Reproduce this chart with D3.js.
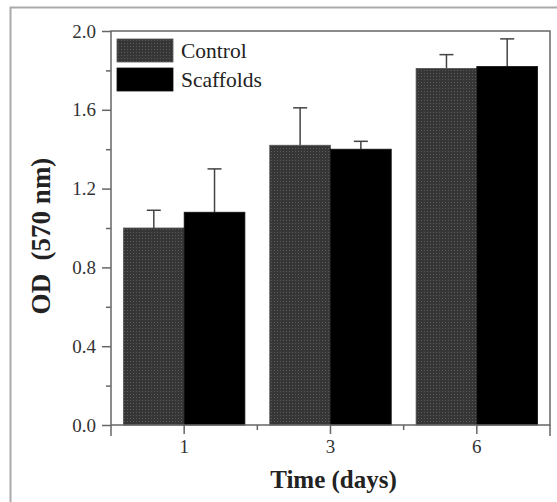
<!DOCTYPE html>
<html><head><meta charset="utf-8">
<script src="https://cdn.jsdelivr.net/npm/d3@7"></script>
<style>body{margin:0;background:#fff}svg{display:block}</style>
</head><body>
<svg id="c" width="557" height="502"></svg>
<script>
const categories = ["1", "3", "6"];
const seriesNames = ["Control", "Scaffolds"];
const controlValues = [1.00, 1.42, 1.81];
const controlErrors = [0.09, 0.19, 0.07];
const scaffoldValues = [1.08, 1.40, 1.82];
const scaffoldErrors = [0.22, 0.04, 0.14];
const yTicks = [0.0, 0.4, 0.8, 1.2, 1.6, 2.0];

const svg = d3.select("#c");
const W = 557, H = 502;
const m = {left: 111, right: 550, top: 31, bottom: 425};
const serif = "'Liberation Serif','Times New Roman',serif";

// outer border (cropped figure frame)
svg.append("path").attr("d", `M10.5,${H} L10.5,7.5 L${W},7.5`)
  .attr("fill", "none").attr("stroke", "#aaa").attr("stroke-width", 2);

// pattern for control bars
const defs = svg.append("defs");
const pat = defs.append("pattern").attr("id", "dots").attr("patternUnits", "userSpaceOnUse")
  .attr("width", 3).attr("height", 3);
pat.append("rect").attr("width", 3).attr("height", 3).attr("fill", "#363636");
pat.append("rect").attr("x", 1).attr("y", 1).attr("width", 1).attr("height", 1).attr("fill", "#5a5a5a");

const x0 = d3.scaleBand().domain(categories).range([m.left, m.right]).paddingInner(0.17).paddingOuter(0.085);
const x1 = d3.scaleBand().domain(seriesNames).range([0, x0.bandwidth()]);
const y = d3.scaleLinear().domain([0, 2]).range([m.bottom, m.top]);

const data = categories.map((c, i) => ({
  cat: c,
  vals: [
    {s: "Control", v: controlValues[i], e: controlErrors[i]},
    {s: "Scaffolds", v: scaffoldValues[i], e: scaffoldErrors[i]}
  ]
}));
const fillOf = s => s === "Control" ? "url(#dots)" : "#000";
const axisCol = "#666";

const g = svg.append("g");
data.forEach(d => {
  d.vals.forEach(p => {
    const bx = x0(d.cat) + x1(p.s);
    const cx = bx + x1.bandwidth() / 2;
    g.append("line").attr("x1", cx).attr("x2", cx).attr("y1", y(p.v)).attr("y2", y(p.v + p.e))
      .attr("stroke", "#444").attr("stroke-width", 1.5);
    g.append("line").attr("x1", cx - 7).attr("x2", cx + 7).attr("y1", y(p.v + p.e)).attr("y2", y(p.v + p.e))
      .attr("stroke", "#444").attr("stroke-width", 1.5);
    g.append("rect").attr("x", bx).attr("y", y(p.v)).attr("width", x1.bandwidth())
      .attr("height", y(0) - y(p.v)).attr("fill", fillOf(p.s))
      .attr("stroke", p.s === "Control" ? "#555" : "#111").attr("stroke-width", 0.8);
  });
});

// frame
svg.append("rect").attr("x", m.left).attr("y", m.top).attr("width", m.right - m.left)
  .attr("height", m.bottom - m.top).attr("fill", "none").attr("stroke", axisCol).attr("stroke-width", 1.5);

// y axis
const yAxis = d3.axisLeft(y).tickValues(yTicks).tickFormat(d3.format(".1f")).tickSize(9).tickPadding(6);
const ya = svg.append("g").attr("transform", `translate(${m.left},0)`).call(yAxis);
ya.select(".domain").remove();
ya.selectAll("line").attr("stroke", axisCol).attr("stroke-width", 1.5);
ya.selectAll("text").attr("font-family", serif).attr("font-size", 19).attr("fill", "#333");
const yMinor = d3.axisLeft(y).tickValues([0.2, 0.6, 1.0, 1.4, 1.8]).tickSize(5).tickFormat("");
const ym = svg.append("g").attr("transform", `translate(${m.left},0)`).call(yMinor);
ym.select(".domain").remove();
ym.selectAll("line").attr("stroke", axisCol).attr("stroke-width", 1.5);

// x axis
const xAxis = d3.axisBottom(x0).tickSize(9).tickPadding(6);
const xa = svg.append("g").attr("transform", `translate(0,${m.bottom})`).call(xAxis);
xa.select(".domain").remove();
xa.selectAll("line").attr("stroke", axisCol).attr("stroke-width", 1.5);
xa.selectAll("text").attr("font-family", serif).attr("font-size", 19).attr("fill", "#333");
const step = x0.step();
const bounds = [m.left, x0("1") + x0.bandwidth()/2 + step/2, x0("3") + x0.bandwidth()/2 + step/2, m.right];
svg.append("g").selectAll("line").data(bounds).join("line")
  .attr("x1", d => d).attr("x2", d => d).attr("y1", m.bottom).attr("y2", (d, i) => (i === 0 || i === 3) ? m.bottom + 11 : m.bottom + 5)
  .attr("stroke", axisCol).attr("stroke-width", 1.5);

// axis titles
svg.append("text").attr("x", (m.left + m.right) / 2 + 3).attr("y", 488).attr("text-anchor", "middle")
  .attr("font-family", serif).attr("font-weight", "bold").attr("font-size", 25).attr("fill", "#222")
  .text("Time (days)");
svg.append("text").attr("transform", `translate(50,236) rotate(-90)`)
  .attr("text-anchor", "middle").attr("font-family", serif).attr("font-weight", "bold")
  .attr("font-size", 27).attr("fill", "#222").attr("xml:space", "preserve").text("OD  (570 nm)");

// legend
const leg = svg.append("g");
seriesNames.forEach((s, i) => {
  leg.append("rect").attr("x", 117).attr("y", 39 + i * 29).attr("width", 56).attr("height", 23)
    .attr("fill", fillOf(s)).attr("stroke", s === "Control" ? "#555" : "#111").attr("stroke-width", 0.8);
  leg.append("text").attr("x", 181).attr("y", 58 + i * 29).attr("font-family", serif)
    .attr("font-size", 21.5).attr("fill", "#222").text(s);
});
</script>
</body></html>
